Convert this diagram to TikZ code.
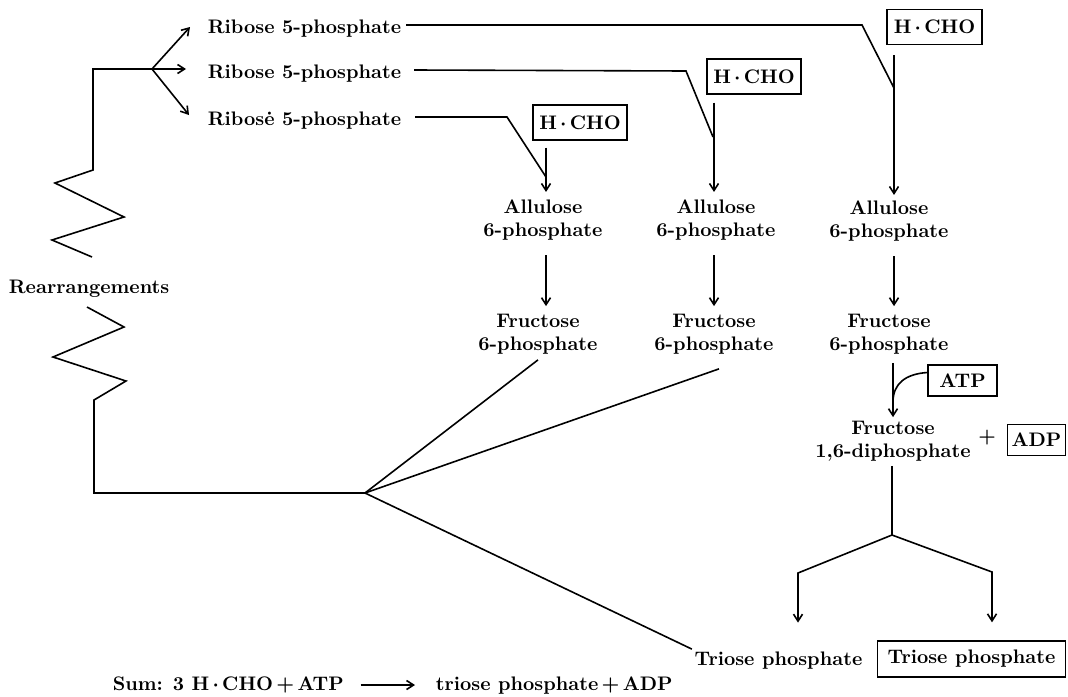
\documentclass[tikz,border=0pt]{standalone}
\usetikzlibrary{arrows.meta}
\newcommand{\hc}{H\,{\boldmath$\cdot$}\,CHO}
\newcommand{\bplus}{\,{\boldmath$+$}\,}
\begin{document}
\begin{tikzpicture}[x=0.5pt,y=-0.5pt,line width=0.8pt,
  lbl/.style={font=\fontsize{9.8}{11.5}\selectfont\bfseries, inner sep=0pt, align=center},
  bx/.style={lbl, draw, line width=0.7pt, minimum height=17.5pt},
  arr/.style={-{Straight Barb[length=3.5pt,width=4.5pt]}}]
\useasboundingbox (0,0) rectangle (1068,696);

% text nodes
\node[lbl, anchor=base west] (r1) at (207,33) {Ribose 5-phosphate};
\node[lbl, anchor=base west] (r2) at (207,78) {Ribose 5-phosphate};
\node[lbl, anchor=base west] (r3) at (207,125) {Ribos\.e 5-phosphate};
\node[lbl, anchor=base west] (rea) at (8,293) {Rearrangements};

\node[bx, minimum width=47pt] (h1) at (580,122.5) {\hc};
\node[bx, minimum width=47pt] (h2) at (754,76.5) {\hc};
\node[bx, minimum width=47.5pt] (h3) at (934.5,27) {\hc};
\node[bx, minimum width=34.5pt, minimum height=15.5pt] (atp) at (962.5,380.5) {ATP};
\node[bx, minimum width=29pt, minimum height=15.5pt] (adp) at (1036.5,440) {ADP};
\node[bx, minimum width=94pt, minimum height=18pt] (tpb) at (971.5,659) {Triose phosphate};

\node[lbl] (a1) at (543,220) {Allulose\\6-phosphate};
\node[lbl] (a2) at (716,220) {Allulose\\6-phosphate};
\node[lbl] (a3) at (889,221) {Allulose\\6-phosphate};
\node[lbl] (f1) at (538,334) {Fructose\\6-phosphate};
\node[lbl] (f2) at (714,334) {Fructose\\6-phosphate};
\node[lbl] (f3) at (889,334) {Fructose\\6-phosphate};
\node[lbl] (fd) at (893,441) {Fructose\\1,6-diphosphate};
\node[lbl] (plus) at (987,438) {+};
\node[lbl, anchor=base] (tp) at (778.5,665) {Triose phosphate};

\node[lbl, anchor=base west] (suml) at (112,690) {Sum: 3 \hc\bplus ATP};
\node[lbl, anchor=base west] (sumr) at (435,690) {triose phosphate\bplus ADP};
\draw[arr] ([shift={(8pt,2.5pt)}]suml.base east) -- ([shift={(-10pt,2.5pt)}]sumr.base west);

% fork to ribose
\coordinate (fork) at (152,69);
\coordinate (e1) at (190,27);
\coordinate (e2) at (186,69);
\coordinate (e3) at (189,115);
\draw[arr] (fork) -- (e1);
\draw[arr] (fork) -- (e2);
\draw[arr] (fork) -- (e3);

% rearrangement zigzags
\coordinate (hub) at (365,493);
\draw[line join=miter] (fork) -- (93,69) -- (93,170) -- (55,183) -- (124,217) -- (52,240) -- (92,257);
\draw[line join=miter] (87,307) -- (124,327) -- (53,357) -- (126,381) -- (94,400) -- (94,493) -- (hub);

% ribose to columns
\coordinate (v1) at (546,0);
\coordinate (v2) at (714,0);
\coordinate (v3) at (894,0);
\draw ([shift={(2pt,4pt)}]r1.base east) -- (862,25) -- (894,88);
\draw ([shift={(6pt,4pt)}]r2.base east) -- (686,71) -- (713,137);
\draw ([shift={(6.5pt,4pt)}]r3.base east) -- (507,117) -- (546,177);

% H.CHO to allulose
\draw[arr] ([yshift=-3.5pt]h1.south -| v1) -- ([yshift=3.5pt]a1.north -| v1);
\draw[arr] ([yshift=-4pt]h2.south -| v2) -- ([yshift=3.5pt]a2.north -| v2);
\draw[arr] ([yshift=-5pt]h3.south -| v3) -- ([yshift=2.5pt]a3.north -| v3);

% allulose to fructose
\draw[arr] ([yshift=-7pt]a1.south -| v1) -- ([yshift=3.5pt]f1.north -| v1);
\draw[arr] ([yshift=-7pt]a2.south -| v2) -- ([yshift=3.5pt]f2.north -| v2);
\draw[arr] ([yshift=-7pt]a3.south -| v3) -- ([yshift=3.5pt]f3.north -| v3);

% column 3 phosphorylation
\coordinate (v4) at (893,0);
\draw[arr] ([yshift=-4pt]f3.south -| v4) -- ([yshift=1.5pt]fd.north -| v4);
\draw ([yshift=4pt]atp.west) .. controls (905,374) and (893,384) .. (893,402);

% fan from hub
\draw (hub) -- ([yshift=-2.5pt]f1.south);
\draw (hub) -- ([shift={(2.5pt,-7pt)}]f2.south);
\draw (hub) -- ([shift={(-1pt,5.5pt)}]tp.west);

% split of diphosphate
\coordinate (split) at (892,535);
\draw ([yshift=-2pt]fd.south -| split) -- (split);
\draw[arr] (split) -- (798,573) -- ([yshift=14pt]tp.north -| 798,0);
\draw[arr] (split) -- (992,572) -- ([yshift=9pt]tpb.north -| 992,0);
\end{tikzpicture}
\end{document}
